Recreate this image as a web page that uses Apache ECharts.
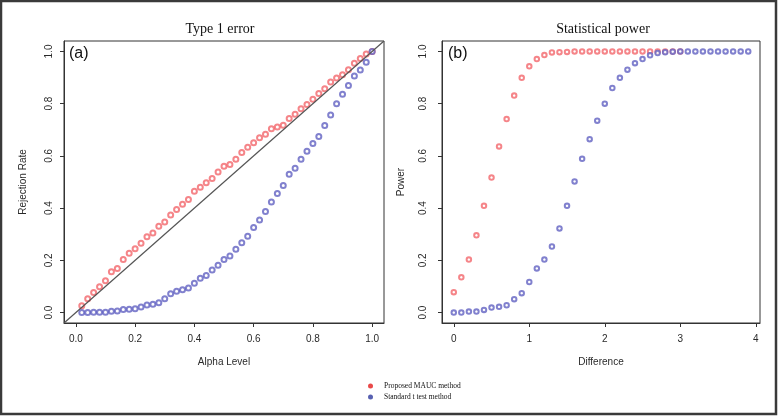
<!DOCTYPE html>
<html><head><meta charset="utf-8">
<script src="https://cdn.jsdelivr.net/npm/echarts@6/dist/echarts.min.js"></script>
<style>html,body{margin:0;padding:0;background:#fff}#c{width:780px;height:416px}</style>
</head><body><div id="c"></div>
<script>
// Panel (a): Type 1 error
const alphaLevels = [0.02,0.04,0.06,0.08,0.10,0.12,0.14,0.16,0.18,0.20,0.22,0.24,0.26,0.28,0.30,0.32,0.34,0.36,0.38,0.40,0.42,0.44,0.46,0.48,0.50,0.52,0.54,0.56,0.58,0.60,0.62,0.64,0.66,0.68,0.70,0.72,0.74,0.76,0.78,0.80,0.82,0.84,0.86,0.88,0.90,0.92,0.94,0.96,0.98,1.00];
const rejMAUC = [0.026,0.053,0.077,0.099,0.122,0.156,0.169,0.203,0.227,0.244,0.265,0.290,0.305,0.331,0.347,0.374,0.395,0.415,0.433,0.465,0.480,0.497,0.513,0.538,0.560,0.567,0.587,0.613,0.633,0.650,0.669,0.683,0.704,0.711,0.717,0.743,0.759,0.781,0.797,0.817,0.839,0.857,0.883,0.898,0.911,0.930,0.955,0.973,0.990,1.000];
const rejTtest = [0.000,0.000,0.001,0.001,0.001,0.005,0.006,0.012,0.013,0.015,0.021,0.029,0.032,0.038,0.053,0.072,0.082,0.087,0.094,0.112,0.131,0.142,0.163,0.181,0.203,0.217,0.242,0.267,0.292,0.326,0.354,0.387,0.423,0.456,0.487,0.530,0.553,0.587,0.618,0.647,0.674,0.716,0.757,0.800,0.836,0.870,0.906,0.929,0.959,1.000];
const diagLine = [[-0.04,-0.04],[1.04,1.04]];
// Panel (b): Statistical power
const diffMAUC = [0.0,0.1,0.2,0.3,0.4,0.5,0.6,0.7,0.8,0.9,1.0,1.1,1.2,1.3,1.4,1.5,1.6,1.7,1.8,1.9,2.0,2.1,2.2,2.3,2.4,2.5,2.6,2.7,2.8,2.9,3.0];
const powMAUC = [0.078,0.135,0.203,0.296,0.409,0.517,0.636,0.741,0.831,0.899,0.943,0.971,0.986,0.996,0.997,0.998,1.0,1.0,1.0,1.0,1.0,1.0,1.0,1.0,1.0,1.0,1.0,1.0,1.0,1.0,1.0];
const diffTtest = [0.0,0.1,0.2,0.3,0.4,0.5,0.6,0.7,0.8,0.9,1.0,1.1,1.2,1.3,1.4,1.5,1.6,1.7,1.8,1.9,2.0,2.1,2.2,2.3,2.4,2.5,2.6,2.7,2.8,2.9,3.0,3.1,3.2,3.3,3.4,3.5,3.6,3.7,3.8,3.9];
const powTtest = [0.000,0.000,0.004,0.004,0.010,0.019,0.022,0.028,0.051,0.074,0.117,0.169,0.203,0.253,0.322,0.409,0.502,0.589,0.664,0.735,0.800,0.860,0.899,0.930,0.955,0.971,0.985,0.994,0.997,0.999,1.0,1.0,1.0,1.0,1.0,1.0,1.0,1.0,1.0,1.0];
// Tick labels
const ticksAlpha = [0,0.2,0.4,0.6,0.8,1.0];
const ticksRate = [0,0.2,0.4,0.6,0.8,1.0];
const ticksDiff = [0,1,2,3,4];
const nameA = 'Proposed MAUC method';
const nameB = 'Standard t test method';

const zip = (xs, ys) => xs.map((x, i) => [x, ys[i]]);
const sans = 'Liberation Sans, Arial, sans-serif';
const serif = 'Liberation Serif, Times New Roman, serif';
const RED = '#f2676c', BLUE = '#6262c2';

function xAx(grid, min, max, ticks, dec, name) {
  return {
    type: 'value', gridIndex: grid, min: min, max: max,
    name: name, nameLocation: 'middle', nameGap: 34,
    nameTextStyle: { fontFamily: sans, fontSize: 10, color: '#2a2a2a' },
    axisLine: { show: true, onZero: false, lineStyle: { color: '#333', width: 1 } },
    axisTick: { show: true, inside: false, length: 4, customValues: ticks, lineStyle: { color: '#333' } },
    axisLabel: { show: true, customValues: ticks, margin: 11, fontFamily: sans, fontSize: 10, color: '#2a2a2a',
      formatter: v => v.toFixed(dec) },
    splitLine: { show: false }
  };
}
function yAx(grid, name, margin) {
  return {
    type: 'value', gridIndex: grid, min: -0.04, max: 1.04,
    name: name, nameLocation: 'middle', nameGap: 36,
    nameTextStyle: { fontFamily: sans, fontSize: 10, color: '#2a2a2a' },
    axisLine: { show: true, onZero: false, lineStyle: { color: '#333', width: 1 } },
    axisTick: { show: true, inside: false, length: 4, customValues: ticksRate, lineStyle: { color: '#333' } },
    axisLabel: { show: true, customValues: ticksRate, rotate: 90, margin: margin, fontFamily: sans, fontSize: 10, color: '#2a2a2a',
      formatter: v => v.toFixed(1) },
    splitLine: { show: false }
  };
}
function sc(name, grid, data, color, size) {
  return {
    type: 'scatter', name: name, xAxisIndex: grid, yAxisIndex: grid, data: data,
    symbol: 'emptyCircle', symbolSize: size,
    itemStyle: { color: color, borderColor: color, borderWidth: 1 },
    emphasis: { disabled: true }, silent: true
  };
}

const chart = echarts.init(document.getElementById('c'), null, { renderer: 'canvas' });
chart.setOption({
  animation: false,
  backgroundColor: '#fff',
  title: [
    { text: 'Type 1 error', left: 215, top: 17, textAlign: 'center',
      textStyle: { fontFamily: serif, fontSize: 14, fontWeight: 'normal', color: '#111' } },
    { text: 'Statistical power', left: 598, top: 17, textAlign: 'center',
      textStyle: { fontFamily: serif, fontSize: 14, fontWeight: 'normal', color: '#111' } }
  ],
  grid: [
    { left: 64, top: 41, width: 320, height: 282, show: true, borderColor: '#333', borderWidth: 1, backgroundColor: 'transparent' },
    { left: 442, top: 41, width: 318, height: 282, show: true, borderColor: '#333', borderWidth: 1, backgroundColor: 'transparent' }
  ],
  xAxis: [
    xAx(0, -0.04, 1.04, ticksAlpha, 1, 'Alpha Level'),
    xAx(1, -0.156, 4.056, ticksDiff, 0, 'Difference')
  ],
  yAxis: [ yAx(0, 'Rejection Rate', 10), yAx(1, 'Power', 14) ],
  legend: {
    left: 363, top: 377, orient: 'vertical', itemWidth: 5, itemHeight: 5, itemGap: 3,
    selectedMode: false,
    textStyle: { fontFamily: serif, fontSize: 7.5, color: '#111', padding: [0, 0, 0, 6] },
    data: [
      { name: nameA, icon: 'circle', itemStyle: { color: '#e41c1c', borderWidth: 0 } },
      { name: nameB, icon: 'circle', itemStyle: { color: '#2e3a9e', borderWidth: 0 } }
    ]
  },
  series: [
    { type: 'line', xAxisIndex: 0, yAxisIndex: 0, data: diagLine, showSymbol: false, silent: true,
      lineStyle: { color: '#555', width: 1.2 }, clip: true },
    sc(nameA, 0, zip(alphaLevels, rejMAUC), RED, 5),
    sc(nameB, 0, zip(alphaLevels, rejTtest), BLUE, 5),
    sc(nameA, 1, zip(diffMAUC, powMAUC), RED, 4.5),
    sc(nameB, 1, zip(diffTtest, powTtest), BLUE, 4.5)
  ],
  graphic: [
    { type: 'text', left: 69, top: 46, style: { text: '(a)', fontFamily: sans, fontSize: 16, fill: '#111' } },
    { type: 'text', left: 448, top: 46, style: { text: '(b)', fontFamily: sans, fontSize: 16, fill: '#111' } },
    { type: 'rect', shape: { x: 1, y: 1, width: 775, height: 413 }, style: { fill: 'none', stroke: '#3a3a3a', lineWidth: 2.5 }, silent: true }
  ]
});
</script></body></html>
